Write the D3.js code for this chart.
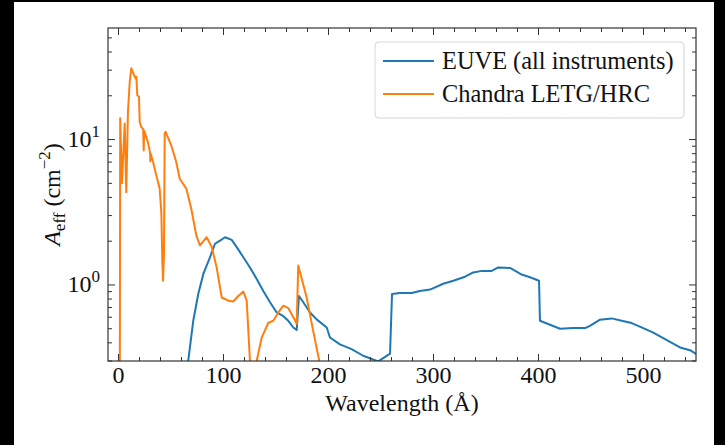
<!DOCTYPE html>
<html>
<head>
  <meta charset="utf-8">
  <title>Effective area</title>
  <script src="https://d3js.org/d3.v7.min.js"></script>
</head>
<style>
  body { margin: 0; background: #000; }
  svg { display: block; }
  text { font-family: "Liberation Serif", "DejaVu Serif", serif; fill: #111; }
</style>
<body>
</body>
<script>

  // EUVE (all instruments)
  var euveWave = [65, 71.2, 76, 80.8, 87.1, 91.9, 96.7, 101.4, 107.8, 112.6, 118.9, 125.2, 131.6, 137.9,
    144.3, 150.7, 157, 161.7, 166.5, 169.7, 171.9, 176, 182.4, 188.7, 198.3, 201.4, 210.9, 222, 233,
    247.4, 258.6, 260.5, 268, 279.2, 287, 296.7, 309.3, 318.9, 330, 337.9, 345.9, 355.4, 361.7, 372.9,
    384, 391.9, 400.5, 401.4, 411, 420.5, 433.1, 444.3, 449, 458.6, 469.7, 479.2, 488.8, 499.8, 509.3,
    520.5, 534.8, 544.3, 550.6];
  var euveArea = [0.25, 0.567, 0.87, 1.19, 1.55, 1.92, 2.02, 2.13, 2.04, 1.82, 1.55, 1.32, 1.1, 0.91,
    0.76, 0.647, 0.61, 0.567, 0.51, 0.49, 0.84, 0.76, 0.647, 0.58, 0.51, 0.435, 0.39, 0.362, 0.326,
    0.298, 0.337, 0.867, 0.88, 0.88, 0.91, 0.93, 1.02, 1.07, 1.14, 1.22, 1.25, 1.25, 1.32, 1.31,
    1.18, 1.13, 1.07, 0.567, 0.533, 0.5, 0.505, 0.505, 0.524, 0.577, 0.589, 0.567, 0.547, 0.505, 0.47,
    0.424, 0.372, 0.356, 0.334];

  // Chandra LETG/HRC
  var letgWave = [1.2, 1.6, 3.3, 5.9, 7.4, 9, 10.7, 12.2, 14.8, 16.4, 17, 17.9, 19.5, 20.2, 21.7, 23.5,
    24, 24.5, 28, 30, 30.3, 30.6, 32.9, 36, 39.2, 40.8, 41.7, 42.4, 43.3, 44, 44.9, 50.3, 55, 58.3,
    64.6, 69.3, 74.1, 77.6, 84, 88.8, 93.5, 98.3, 104.6, 109.3, 114.1, 118.9, 122.1, 125.2, 127.5,
    130.5, 131.6, 136.4, 142.7, 147.4, 152.2, 157, 161.7, 166.5, 169.7, 171.2, 179.2, 185.5, 195];
  var letgArea = [0.1, 14, 5.0, 12.9, 4.35, 15.5, 25, 30.9, 27.8, 26.3, 27, 20.2, 19.7, 13.2, 12.2, 11.8,
    8.4, 11.5, 9.6, 8.2, 7.1, 8.0, 7.0, 5.67, 4.6, 3.16, 1.51, 1.07, 1.59, 11.0, 11.3, 9.1, 7.0, 5.38,
    4.6, 3.34, 2.19, 1.87, 2.13, 1.82, 1.32, 0.82, 0.78, 0.77, 0.84, 0.90, 0.78, 0.3, 0.2,
    0.2, 0.3, 0.435, 0.55, 0.567, 0.647, 0.72, 0.694, 0.6, 0.54, 1.36, 0.82, 0.48, 0.22];

  var seriesNames = ["EUVE (all instruments)", "Chandra LETG/HRC"];
  var seriesColors = ["#1f77b4", "#ff7f0e"];
  var xTicks = [0, 100, 200, 300, 400, 500];
  var yTicks = [1, 10];

  var W = 725, H = 445;
  var margin = {top: 28, right: 29, bottom: 84, left: 108}
    , width = W - margin.left - margin.right
    , height = H - margin.top - margin.bottom;

  var xScale = d3.scaleLinear().domain([-10, 550]).range([0, width]);
  var yScale = d3.scaleLog().domain([0.3, 58.5]).range([height, 0]);

  var svg = d3.select("body").append("svg")
    .attr("width", W)
    .attr("height", H);

  // white page inside the black frame
  svg.append("rect")
    .attr("x", 14).attr("y", 2)
    .attr("width", 700).attr("height", 443)
    .attr("fill", "#fff");

  var g = svg.append("g")
    .attr("transform", "translate(" + margin.left + "," + margin.top + ")");

  g.append("clipPath").attr("id", "clip")
    .append("rect").attr("width", width).attr("height", height);

  var line = d3.line()
    .x(function(d) { return xScale(d[0]); })
    .y(function(d) { return yScale(d[1]); });

  var series = [d3.zip(euveWave, euveArea), d3.zip(letgWave, letgArea)];

  g.append("g").attr("clip-path", "url(#clip)")
    .selectAll("path")
    .data(series)
    .enter()
      .append("path")
      .attr("d", line)
      .attr("fill", "none")
      .attr("stroke", function(d, i) { return seriesColors[i]; })
      .attr("stroke-width", 2)
      .attr("stroke-linejoin", "round");

  // ticks pointing inward on all four sides
  var xMinor = d3.range(0, 551, 20).filter(function(v) { return v % 100 !== 0; });
  var yMinor = [];
  [0.1, 1, 10].forEach(function(p) {
    d3.range(2, 10).forEach(function(k) {
      var v = k * p;
      if (v >= 0.3 && v <= 58.5) yMinor.push(v);
    });
  });

  var tickColor = "#333";
  function xTick(v, len) {
    var x = xScale(v);
    g.append("line").attr("x1", x).attr("x2", x).attr("y1", height).attr("y2", height - len)
      .attr("stroke", tickColor).attr("stroke-width", 1);
    g.append("line").attr("x1", x).attr("x2", x).attr("y1", 0).attr("y2", len)
      .attr("stroke", tickColor).attr("stroke-width", 1);
  }
  function yTick(v, len) {
    var y = yScale(v);
    g.append("line").attr("x1", 0).attr("x2", len).attr("y1", y).attr("y2", y)
      .attr("stroke", tickColor).attr("stroke-width", 1);
    g.append("line").attr("x1", width).attr("x2", width - len).attr("y1", y).attr("y2", y)
      .attr("stroke", tickColor).attr("stroke-width", 1);
  }
  xTicks.forEach(function(v) { xTick(v, 7); });
  xMinor.forEach(function(v) { xTick(v, 4); });
  yTicks.forEach(function(v) { yTick(v, 7); });
  yMinor.forEach(function(v) { yTick(v, 4); });

  g.append("rect")
    .attr("width", width).attr("height", height)
    .attr("fill", "none").attr("stroke", tickColor).attr("stroke-width", 1.2);

  // x tick labels
  g.selectAll(".xlab")
    .data(xTicks)
    .enter()
      .append("text")
      .attr("class", "xlab")
      .attr("x", function(d) { return xScale(d); })
      .attr("y", height + 22)
      .attr("text-anchor", "middle")
      .style("font-size", "24px")
      .text(function(d) { return d; });

  // y tick labels as 10^n
  var ylab = g.selectAll(".ylab")
    .data(yTicks)
    .enter()
      .append("text")
      .attr("class", "ylab")
      .attr("x", -8)
      .attr("y", function(d) { return yScale(d) + 7.5; })
      .attr("text-anchor", "end")
      .style("font-size", "24px");
  ylab.append("tspan").text("10");
  ylab.append("tspan")
    .attr("dy", -10)
    .style("font-size", "17px")
    .text(function(d) { return Math.round(Math.log10(d)); });

  // axis titles
  g.append("text")
    .attr("x", width / 2)
    .attr("y", height + 50)
    .attr("text-anchor", "middle")
    .style("font-size", "24px")
    .text("Wavelength (Å)");

  var ytitle = g.append("text")
    .attr("transform", "translate(" + (-48) + "," + (height / 2) + ") rotate(-90)")
    .attr("text-anchor", "middle")
    .style("font-size", "24px");
  ytitle.append("tspan").style("font-style", "italic").text("A");
  ytitle.append("tspan").attr("dy", 5).style("font-size", "17px").text("eff");
  ytitle.append("tspan").attr("dy", -5).text(" (cm");
  ytitle.append("tspan").attr("dy", -10).style("font-size", "17px").text("−2");
  ytitle.append("tspan").attr("dy", 10).text(")");

  // legend
  var legend = g.append("g").attr("transform", "translate(" + (375 - margin.left) + "," + (42 - margin.top) + ")");
  legend.append("rect")
    .attr("width", 309).attr("height", 76)
    .attr("rx", 4)
    .attr("fill", "#fff").attr("fill-opacity", 0.8)
    .attr("stroke", "#d6d6d6").attr("stroke-width", 1);
  seriesNames.forEach(function(name, i) {
    var y = 19 + i * 33;
    legend.append("line")
      .attr("x1", 8).attr("x2", 59).attr("y1", y).attr("y2", y)
      .attr("stroke", seriesColors[i]).attr("stroke-width", 2);
    legend.append("text")
      .attr("x", 67).attr("y", y + 8)
      .style("font-size", "24.4px")
      .text(name);
  });

</script>
</html>
